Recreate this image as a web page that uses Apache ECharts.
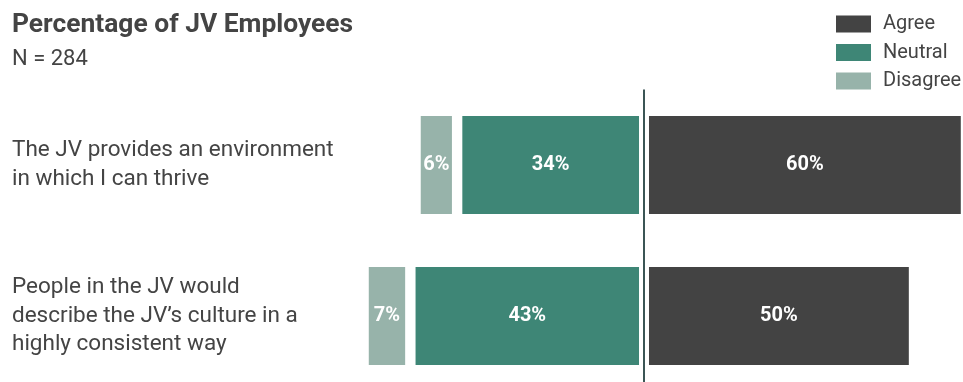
<!DOCTYPE html>
<html>
<head>
<meta charset="utf-8">
<script src="https://cdn.jsdelivr.net/npm/echarts@6/dist/echarts.min.js"></script>
<style>
html,body{margin:0;padding:0;background:#fff;}
#chart{width:963px;height:382px;}
</style>
</head>
<body>
<div id="chart"></div>
<script>
const categories = [
  'The JV provides an environment\nin which I can thrive',
  'People in the JV would\ndescribe the JV\u2019s culture in a\nhighly consistent way'
];
const agree = [60, 50];
const neutral = [34, 43];
const disagree = [6, 7];

// visual gaps in axis units
const CENTER_GAP = 0.96;
const SEG_GAP = 2.0;

const FONT = 'Roboto, "Noto Sans", sans-serif';
const colors = { agree: '#434343', neutral: '#3e8676', disagree: '#97b3aa' };

const chart = echarts.init(document.getElementById('chart'), null, { renderer: 'canvas' });

const labelCfg = {
  show: true,
  position: 'inside',
  color: '#fff',
  fontFamily: FONT,
  fontWeight: 'bold',
  fontSize: 20,
  formatter: p => Math.abs(p.value) + '%'
};

function spacer(val) {
  return {
    type: 'bar', stack: 'total', silent: true, barWidth: 98,
    itemStyle: { color: 'rgba(0,0,0,0)' },
    label: { show: false },
    emphasis: { disabled: true },
    data: categories.map(() => val)
  };
}

chart.setOption({
  animation: false,
  textStyle: { fontFamily: FONT },
  title: {
    text: 'Percentage of JV Employees',
    subtext: 'N = 284',
    left: 12, top: 11, padding: 0, itemGap: 8,
    textStyle: { fontFamily: FONT, fontSize: 26.4, fontWeight: 'bold', color: '#444', lineHeight: 28 },
    subtextStyle: { fontFamily: FONT, fontSize: 22, color: '#444', lineHeight: 24 }
  },
  legend: {
    orient: 'vertical',
    left: 836, top: 14, padding: 0,
    itemWidth: 35, itemHeight: 17, itemGap: 8.5,
    icon: 'rect',
    selectedMode: false,
    data: ['Agree', 'Neutral', 'Disagree'],
    textStyle: { fontFamily: FONT, fontSize: 20, color: '#444', lineHeight: 17, padding: [0, 0, 0, 7] }
  },
  grid: { left: 327, right: 2, top: 89.5, height: 302, containLabel: false, outerBoundsMode: 'none' },
  xAxis: {
    type: 'value', min: -61, max: 61, show: false
  },
  yAxis: {
    type: 'category', inverse: true, data: categories,
    axisLine: { show: false, onZero: false },
    axisTick: { show: false },
    splitLine: { show: false },
    axisLabel: {
      align: 'left', margin: 315,
      fontFamily: FONT, fontSize: 22.5, color: '#444', lineHeight: 28.5,
      padding: [0, 0, 4, 0]
    }
  },
  series: [
    Object.assign(spacer(CENTER_GAP), {
      markLine: {
        silent: true, symbol: ['none', 'none'],
        label: { show: false },
        lineStyle: { color: '#3b5555', width: 2, type: 'solid' },
        data: [{ xAxis: 0 }]
      }
    }),
    {
      name: 'Agree', type: 'bar', stack: 'total', barWidth: 98,
      itemStyle: { color: colors.agree }, label: labelCfg, data: agree
    },
    spacer(-CENTER_GAP),
    {
      name: 'Neutral', type: 'bar', stack: 'total', barWidth: 98,
      itemStyle: { color: colors.neutral }, label: labelCfg, data: neutral.map(v => -v)
    },
    spacer(-SEG_GAP),
    {
      name: 'Disagree', type: 'bar', stack: 'total', barWidth: 98,
      itemStyle: { color: colors.disagree }, label: labelCfg, data: disagree.map(v => -v)
    }
  ]
});
</script>
</body>
</html>
